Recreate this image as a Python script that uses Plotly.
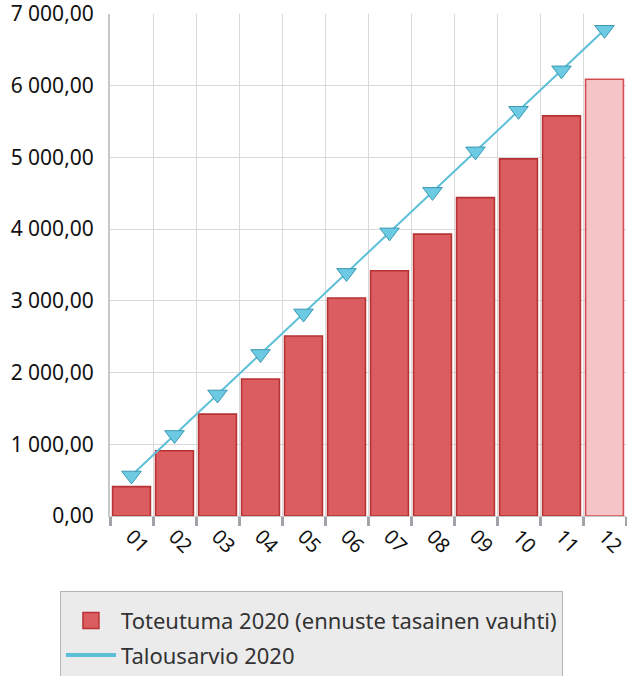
import plotly.graph_objects as go

months = ["01", "02", "03", "04", "05", "06", "07", "08", "09", "10", "11", "12"]
toteutuma = [410, 910, 1420, 1910, 2510, 3040, 3420, 3930, 4440, 4980, 5580, 6090]
talousarvio = [565, 1130, 1695, 2260, 2825, 3390, 3955, 4520, 5085, 5650, 6215, 6780]
is_forecast = [False] * 11 + [True]

bar_fill = ["#f4c4c6" if f else "#db5d5f" for f in is_forecast]
bar_line = ["#d24e52" if f else "#b73235" for f in is_forecast]

FONT = "Noto Sans"
BAR_NAME = "Toteutuma 2020 (ennuste tasainen vauhti)"
LINE_NAME = "Talousarvio 2020"

fig = go.Figure()
fig.add_trace(go.Bar(
    x=months, y=toteutuma, name=BAR_NAME, showlegend=False,
    marker=dict(color=bar_fill, line=dict(color=bar_line, width=1.6)),
    width=0.88,
))
fig.add_trace(go.Scatter(
    x=months, y=talousarvio, mode="lines+markers", name=LINE_NAME, showlegend=False,
    line=dict(color="#5cbfd8", width=2),
    marker=dict(symbol="triangle-down", size=17, color="#6ccbe2",
                line=dict(color="#3b98b2", width=1)),
))
# legend entries
fig.add_trace(go.Scatter(
    x=[months[0]], y=[None], mode="markers", name=BAR_NAME, legendgroup="a",
    marker=dict(symbol="square", size=16, color="#db5d5f",
                line=dict(color="#b73235", width=1.5)),
))
fig.add_trace(go.Scatter(
    x=[months[0]], y=[None], mode="lines", name=LINE_NAME, legendgroup="b",
    line=dict(color="#5cbfd8", width=4),
))

fig.update_layout(
    width=627, height=676,
    margin=dict(l=110, r=1, t=14, b=160, autoexpand=False),
    paper_bgcolor="white", plot_bgcolor="white",
    separators=", ",
    font=dict(family=FONT, size=21, color="#111111"),
    bargap=0.12,
    showlegend=True,
    legend=dict(
        x=-0.097, xanchor="left", y=-0.149, yanchor="top",
        bgcolor="#ebebeb", bordercolor="#b4b4b4", borderwidth=1,
        font=dict(family=FONT, size=22, color="#333333"),
        traceorder="grouped", tracegroupgap=3, itemwidth=50,
        itemsizing="trace",
        title=dict(text=" ", font=dict(size=6)),
    ),
)
fig.update_yaxes(
    range=[0, 7000], dtick=1000, tickformat=",.2f", automargin=False,
    showgrid=True, gridcolor="#d9d9d9", gridwidth=1,
    showline=True, linecolor="#c8c8c8", linewidth=2,
    ticks="", ticklabelstandoff=10, zeroline=False, ticklabeloverflow="allow",
    tickfont=dict(size=21, color="#111111"),
)
fig.update_xaxes(
    type="category", categoryorder="array", categoryarray=months,
    range=[-0.5, len(months) - 0.5],
    tickson="boundaries", tickangle=45, automargin=False,
    showgrid=True, gridcolor="#d9d9d9", gridwidth=1,
    showline=True, linecolor="#c8c8c8", linewidth=1,
    ticks="outside", ticklen=9, tickwidth=3, tickcolor="#a0a4a8",
    ticklabeloverflow="allow",
    tickfont=dict(size=20, color="#111111"),
)

fig.write_html("out.html", config={"displayModeBar": False},
               post_script="document.body.style.margin='0';")
